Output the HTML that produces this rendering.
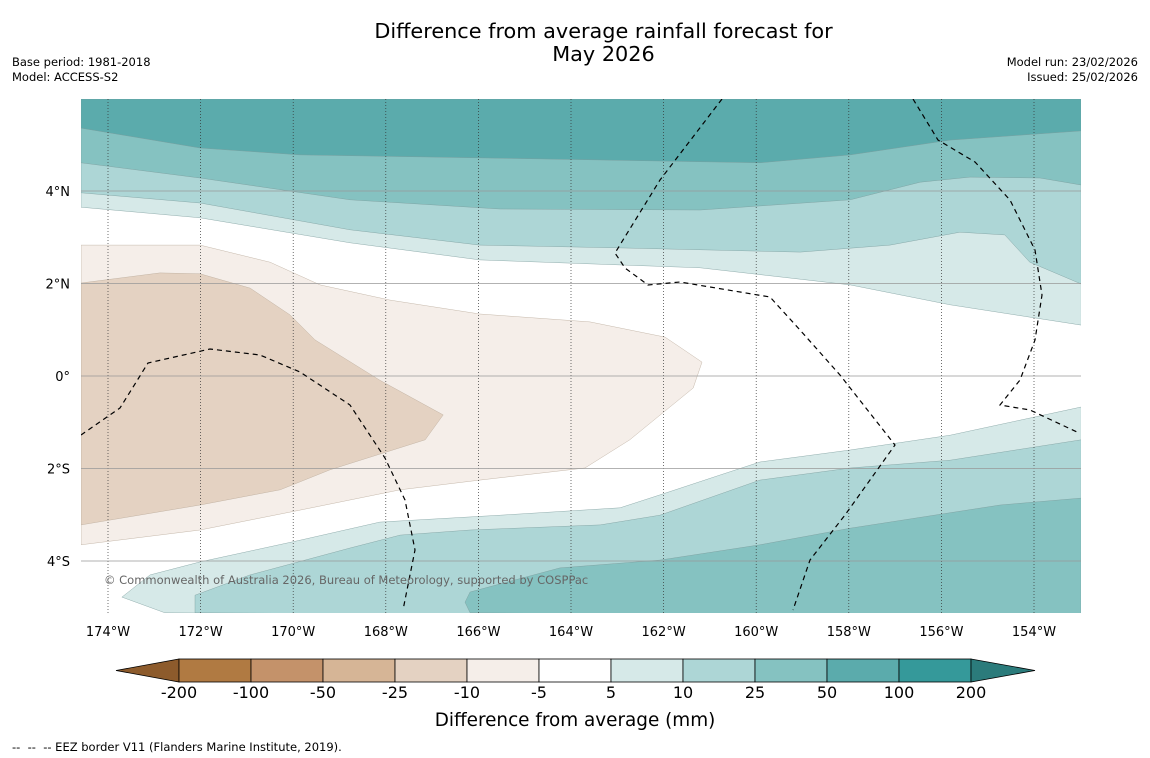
<!DOCTYPE html>
<html><head><meta charset="utf-8"><style>
body{margin:0;background:#fff;font-family:"DejaVu Sans","Liberation Sans",sans-serif;}
#wrap{position:relative;width:1150px;height:758px;overflow:hidden;background:#fff}
.t{position:absolute;color:#000}
svg text{font-family:"DejaVu Sans","Liberation Sans",sans-serif;}
</style></head><body>
<div id="wrap">
<div class="t" style="left:0;width:1207px;top:20px;text-align:center;font-size:20.8px;line-height:23px">Difference from average rainfall forecast for<br>May 2026</div>
<div class="t" style="left:12px;top:55px;font-size:11.5px;line-height:15px">Base period: 1981-2018<br>Model: ACCESS-S2</div>
<div class="t" style="right:12px;top:55px;font-size:11.5px;line-height:15px;text-align:right">Model run: 23/02/2026<br>Issued: 25/02/2026</div>
<div class="t" style="left:12px;top:740px;font-size:11.5px">-- &nbsp;-- &nbsp;-- EEZ border V11 (Flanders Marine Institute, 2019).</div>
<svg id="svg" width="1150" height="758" style="position:absolute;left:0;top:0"></svg>
</div>
<script>
const lonTicks=[-174,-172,-170,-168,-166,-164,-162,-160,-158,-156,-154];
const latTicks=[4,2,0,-2,-4];
const levelLabels=["-200","-100","-50","-25","-10","-5","5","10","25","50","100","200"];
const levelColors=["#8d5b2c","#b07a42","#c4926a","#d6b596","#e4d2c2","#f5eee9","#ffffff","#d6e9e8","#add6d6","#85c2c1","#5babac","#35999a","#2b7b7b"];
const top5Lon=[-174.58,-172.01,-168.77,-165.97,-161.21,-157.97,-155.81,-152.98];
const top5Lat=[3.65,3.42,2.88,2.51,2.34,1.97,1.54,1.10];
const top10Lon=[-174.58,-172.01,-168.77,-165.97,-162.94,-159.05,-157.11,-155.60,-154.63,-154.09,-152.98];
const top10Lat=[3.96,3.74,3.16,2.83,2.77,2.68,2.83,3.11,3.05,2.46,1.99];
const top25Lon=[-174.58,-172.01,-168.77,-165.53,-161.21,-157.97,-156.46,-155.38,-153.87,-152.98];
const top25Lat=[4.61,4.28,3.81,3.61,3.59,3.81,4.19,4.30,4.28,4.13];
const top50Lon=[-174.58,-172.01,-169.85,-165.53,-159.92,-157.97,-155.81,-152.98];
const top50Lat=[5.36,4.93,4.78,4.71,4.61,4.78,5.10,5.30];
const bot5Lon=[-152.98,-155.81,-157.97,-159.92,-160.78,-162.08,-162.94,-165.53,-168.13,-169.85,-172.01,-173.09,-173.70,-172.77];
const bot5Lat=[-0.67,-1.28,-1.60,-1.86,-2.14,-2.57,-2.85,-3.01,-3.16,-3.55,-4.02,-4.30,-4.78,-5.12];
const bot10Lon=[-152.98,-155.81,-157.97,-159.92,-162.08,-163.37,-166.18,-167.69,-168.77,-170.93,-172.12,-172.12];
const bot10Lat=[-1.38,-1.82,-1.99,-2.25,-3.01,-3.22,-3.33,-3.44,-3.72,-4.30,-4.74,-5.12];
const bot25Lon=[-152.98,-154.73,-157.97,-159.92,-162.08,-164.24,-166.18,-166.29,-166.18];
const bot25Lat=[-2.64,-2.79,-3.29,-3.65,-3.98,-4.15,-4.67,-4.89,-5.12];
const dry5Lon=[-174.58,-172.01,-170.50,-169.42,-167.91,-165.97,-163.59,-161.97,-161.17,-161.36,-162.73,-163.70,-165.97,-167.69,-169.85,-172.01,-174.58];
const dry5Lat=[2.83,2.83,2.46,1.97,1.64,1.34,1.17,0.84,0.30,-0.26,-1.38,-1.99,-2.25,-2.46,-2.90,-3.33,-3.65];
const dry10Lon=[-174.58,-172.88,-172.01,-170.93,-170.07,-169.53,-168.13,-166.76,-167.15,-169.21,-170.28,-172.01,-174.58];
const dry10Lat=[2.01,2.23,2.21,1.90,1.32,0.78,-0.09,-0.84,-1.38,-2.03,-2.46,-2.79,-3.22];

const X0=81,X1=1081,Y0=99,Y1=613;
const sx=lon=>108+(lon+174)*46.3;
const sy=lat=>376-lat*46.25;
const svg=document.getElementById('svg');
const NS='http://www.w3.org/2000/svg';
function mk(tag,attrs,parent){const e=document.createElementNS(NS,tag);for(const k in attrs)e.setAttribute(k,attrs[k]);(parent||svg).appendChild(e);return e;}
const clip=mk('clipPath',{id:'mc'});mk('rect',{x:X0,y:Y0,width:X1-X0,height:Y1-Y0},clip);
const g=mk('g',{'clip-path':'url(#mc)'});


function pts(lons,lats){return lons.map((l,i)=>sx(l).toFixed(1)+','+sy(lats[i]).toFixed(1));}
function topBand(lons,lats,col,name){const p=pts(lons,lats);const e=mk('polygon',{points:[X0+','+Y0,...p.map((s,i)=>i==0?X0+','+s.split(',')[1]:s),X1+','+Y0].join(' '),fill:col,stroke:'#7a9a9a','stroke-width':0.4},g);

}
function botBand(lons,lats,col,name){const p=pts(lons,lats);const e=mk('polygon',{points:[...p,X1+','+(Y1+5)].join(' '),fill:col,stroke:'#7a9a9a','stroke-width':0.4},g);

}
function poly(lons,lats,col,name){const e=mk('polygon',{points:pts(lons,lats).join(' '),fill:col,stroke:'#b8a898','stroke-width':0.4},g);

}
mk('rect',{x:X0,y:Y0,width:X1-X0,height:Y1-Y0,fill:'#fff'},g);
topBand(top5Lon,top5Lat,levelColors[7],'wet-band-5-top');
topBand(top10Lon,top10Lat,levelColors[8],'wet-band-10-top');
topBand(top25Lon,top25Lat,levelColors[9],'wet-band-25-top');
topBand(top50Lon,top50Lat,levelColors[10],'wet-band-50-top');
botBand(bot5Lon,bot5Lat,levelColors[7],'wet-band-5-bottom');
botBand(bot10Lon,bot10Lat,levelColors[8],'wet-band-10-bottom');
botBand(bot25Lon,bot25Lat,levelColors[9],'wet-band-25-bottom');
poly(dry5Lon,dry5Lat,levelColors[5],'dry-region-5');
poly(dry10Lon,dry10Lat,levelColors[4],'dry-region-10');
lonTicks.forEach(l=>{const e=mk('line',{x1:sx(l),x2:sx(l),y1:Y0,y2:Y1,stroke:'#333','stroke-width':0.7,'stroke-dasharray':'1,2'},g);


const t=mk('text',{x:sx(l),y:636,'text-anchor':'middle','font-size':13,fill:'#000'});t.textContent=Math.abs(l)+'°W';

});
latTicks.forEach(l=>{const e=mk('line',{x1:X0,x2:X1,y1:sy(l),y2:sy(l),stroke:'#999','stroke-width':0.7},g);


const t=mk('text',{x:70,y:sy(l)+5,'text-anchor':'end','font-size':13,fill:'#000'});t.textContent=l==0?'0°':Math.abs(l)+'°'+(l>0?'N':'S');

});
[[[81,435],[120,408],[148,363],[210,349],[260,355],[300,372],[350,405],[385,458],[405,500],[415,550],[403,610]],
 [[722,99],[660,180],[615,253],[625,268],[648,285],[680,282],[770,297],[800,330],[840,375],[895,445],[870,480],[845,515],[810,560],[793,610]],
 [[913,99],[938,140],[975,162],[1010,200],[1035,250],[1042,295],[1035,340],[1020,380],[1000,405],[1030,410],[1077,432]]].forEach(a=>{
 const e=mk('polyline',{points:a.map(p=>p.join(',')).join(' '),fill:'none',stroke:'#000','stroke-width':1.2,'stroke-dasharray':'5,4'},g);
 
 });
const cp=mk('text',{x:104,y:584,'font-size':11.5,fill:'#666'},g);cp.textContent='© Commonwealth of Australia 2026, Bureau of Meteorology, supported by COSPPac';


const cb=mk('g',{});


const cx0=179,cw=72,cy=659,ch=23;
mk('polygon',{points:`116,${cy+ch/2} ${cx0},${cy} ${cx0},${cy+ch}`,fill:levelColors[0],stroke:'#000','stroke-width':0.8},cb);
for(let i=0;i<11;i++){mk('rect',{x:cx0+i*cw,y:cy,width:cw,height:ch,fill:levelColors[i+1],stroke:'#000','stroke-width':0.8},cb);}
mk('polygon',{points:`${cx0+11*cw},${cy} 1035,${cy+ch/2} ${cx0+11*cw},${cy+ch}`,fill:levelColors[12],stroke:'#000','stroke-width':0.8},cb);
levelLabels.forEach((s,i)=>{const t=mk('text',{x:cx0+i*cw,y:698,'text-anchor':'middle','font-size':16,fill:'#000'},cb);t.textContent=s;

});
const ct=mk('text',{x:575,y:726,'text-anchor':'middle','font-size':18.4,fill:'#000'},cb);ct.textContent='Difference from average (mm)';


</script>
</body></html>
